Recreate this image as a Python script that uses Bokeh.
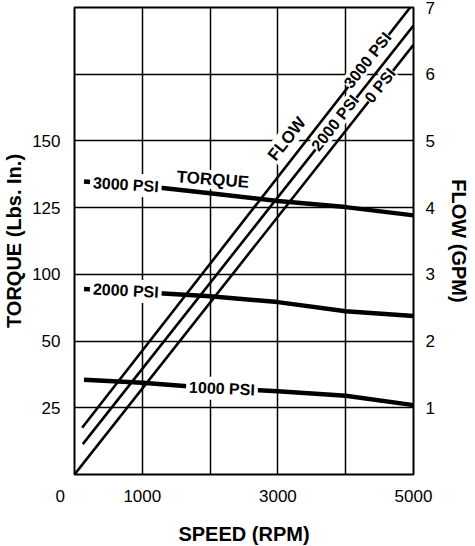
import numpy as np
from bokeh.plotting import figure
from bokeh.models import Range1d, LinearAxis, FixedTicker, Label
from bokeh.embed import file_html
from bokeh.resources import INLINE

# ---------------- data ----------------
NB = "\u00a0"
speed_ticks = [0, 1000, 2000, 3000, 4000, 5000]
speed_tick_labels = {0: "0" + NB * 6, 1000: "1000", 2000: "", 3000: "3000", 4000: "", 5000: "5000"}
torque_ticks = [25, 50, 75, 100, 125, 150]
torque_tick_labels = {25: "25", 50: "50", 75: "100", 100: "125", 125: "150", 150: ""}
flow_ticks = [1, 2, 3, 4, 5, 6, 7]

torque_rpm = [140, 1000, 2000, 3000, 4000, 5000]
torque_3000psi = [109.8, 108.2, 105.4, 102.5, 100.2, 97.1]
torque_2000psi = [69.5, 68.3, 66.8, 64.6, 61.2, 59.4]
torque_1000psi = [35.5, 34.4, 32.4, 31.2, 29.5, 26.0]

flow_3000psi_rpm = [112, 4950]
flow_3000psi_gpm = [0.70, 7.0]
flow_2000psi_rpm = [122, 5000]
flow_2000psi_gpm = [0.455, 6.73]
flow_0psi_rpm = [0, 5000]
flow_0psi_gpm = [0.0, 6.44]

# ---------------- figure ----------------
FW, FH = 339, 467
FONT = "Liberation Sans"

p = figure(frame_width=FW, frame_height=FH,
           x_range=Range1d(0, 5000), y_range=Range1d(0, 175),
           output_backend="svg", toolbar_location=None,
           min_border_left=70, min_border_right=50,
           min_border_top=7, min_border_bottom=56)
p.extra_y_ranges = {"flow": Range1d(0, 7)}
p.background_fill_color = "white"
p.border_fill_color = "white"
p.outline_line_color = "black"
p.outline_line_width = 2

p.xaxis.ticker = FixedTicker(ticks=speed_ticks)
p.xaxis.major_label_overrides = speed_tick_labels
p.yaxis.ticker = FixedTicker(ticks=torque_ticks)
p.yaxis.major_label_overrides = torque_tick_labels

p.xaxis.axis_label = "SPEED (RPM)"
p.yaxis.axis_label = "TORQUE (Lbs. In.)"

right = LinearAxis(y_range_name="flow", ticker=FixedTicker(ticks=flow_ticks),
                   axis_label="FLOW (GPM)")
p.add_layout(right, "right")

for ax in p.axis:
    ax.axis_line_color = None
    ax.major_tick_line_color = None
    ax.minor_tick_line_color = None
    ax.major_label_text_font = FONT
    ax.major_label_text_font_size = "17px"
    ax.major_label_text_color = "black"
    ax.axis_label_text_font = FONT
    ax.axis_label_text_font_style = "bold"
    ax.axis_label_text_font_size = "20px"
    ax.axis_label_text_color = "black"

p.xaxis.major_label_standoff = 6
p.xaxis.axis_label_standoff = 14
p.yaxis.major_label_standoff = 8
p.yaxis.axis_label_standoff = 4
right.major_label_standoff = 6
right.axis_label_standoff = 10

p.grid.grid_line_color = "black"
p.grid.grid_line_width = 1.5
p.grid.grid_line_alpha = 1.0

# ---------------- lines ----------------
for ys in (torque_3000psi, torque_2000psi, torque_1000psi):
    p.line(torque_rpm, ys, line_color="black", line_width=4.5)

for xs, ys in ((flow_3000psi_rpm, flow_3000psi_gpm),
               (flow_2000psi_rpm, flow_2000psi_gpm),
               (flow_0psi_rpm, flow_0psi_gpm)):
    p.line(xs, ys, line_color="black", line_width=2.6, y_range_name="flow")

# ---------------- labels ----------------
slope = (flow_0psi_gpm[1] - flow_0psi_gpm[0]) / (flow_0psi_rpm[1] - flow_0psi_rpm[0])
flow_angle = float(np.arctan((slope * FH / 7.0) / (FW / 5000.0)))


def lab(x, y, text, angle=0.0, size="16px", rng="default", pad=2):
    p.add_layout(Label(x=x, y=y, text=text, angle=angle, y_range_name=rng,
                       text_font=FONT, text_font_style="bold", text_font_size=size,
                       text_align="center", text_baseline="middle", text_color="black",
                       background_fill_color="white", padding=pad))


lab(757, 108.6, "3000 PSI", angle=-0.06, pad=3)
lab(757, 68.9, "2000 PSI", angle=-0.05, pad=3)
lab(2175, 32.2, "1000 PSI", angle=-0.04, pad=3)
lab(2040, 110.5, "TORQUE", angle=-0.08, size="17px", pad=0)

lab(3134, 5.03, "FLOW", angle=flow_angle, size="17px", rng="flow", pad=1)
lab(4322, 6.21, "3000 PSI", angle=flow_angle, size="16px", rng="flow", pad=0)
lab(3844, 5.27, "2000 PSI", angle=flow_angle, size="16px", rng="flow", pad=0)
lab(4507, 5.83, "0 PSI", angle=flow_angle, size="16px", rng="flow", pad=0)

open("out.html", "w").write(file_html(p, INLINE))
